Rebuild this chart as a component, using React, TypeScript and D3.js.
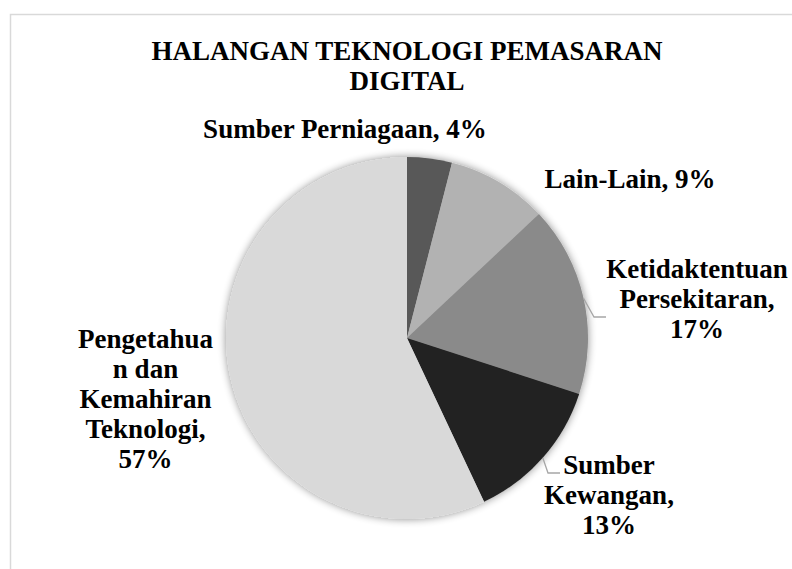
import React from "react";
import * as d3 from "d3";

const categories = [
  "Sumber Perniagaan",
  "Lain-Lain",
  "Ketidaktentuan Persekitaran",
  "Sumber Kewangan",
  "Pengetahuan dan Kemahiran Teknologi",
];
const values = [4, 9, 17, 13, 57];
const labelLines = [
  ["Sumber Perniagaan, 4%"],
  ["Lain-Lain, 9%"],
  ["Ketidaktentuan", "Persekitaran,", "17%"],
  ["Sumber", "Kewangan,", "13%"],
  ["Pengetahua", "n dan", "Kemahiran", "Teknologi,", "57%"],
];
const colors = ["#595959", "#b2b2b2", "#8a8a8a", "#222222", "#d9d9d9"];
const titleLines = ["HALANGAN TEKNOLOGI PEMASARAN", "DIGITAL"];

// layout (label anchor: center x, first baseline y)
const labelPos = [
  { x: 345, y: 137.5 },
  { x: 630, y: 187.5 },
  { x: 697, y: 278 },
  { x: 609, y: 473.5 },
  { x: 145.5, y: 348 },
];
const leaders: ({ elbow: [number, number]; end: [number, number] } | null)[] = [
  null,
  null,
  { elbow: [594, 317], end: [606, 317] },
  { elbow: [548, 473], end: [560, 473] },
  null,
];

const W = 792;
const H = 569;
const cx = 407;
const cy = 338;
const R = 181;
const FONT = "'Liberation Serif', 'Times New Roman', serif";

export default function App() {
  const pie = d3
    .pie<number>()
    .sort(null)
    .value((d) => d)
    .startAngle(0)
    .endAngle(2 * Math.PI);
  const arcs = pie(values);
  const arc = d3.arc<d3.PieArcDatum<number>>().innerRadius(0).outerRadius(R);

  return (
    <svg
      width={W}
      height={H}
      style={{ position: "absolute", left: 0, top: 0, background: "#fff" }}
      fontFamily={FONT}
    >
      <defs>
        <filter id="shadow" x="-20%" y="-20%" width="140%" height="140%">
          <feGaussianBlur in="SourceAlpha" stdDeviation="4" />
          <feComponentTransfer>
            <feFuncA type="linear" slope="0.45" />
          </feComponentTransfer>
          <feMerge>
            <feMergeNode />
            <feMergeNode in="SourceGraphic" />
          </feMerge>
        </filter>
      </defs>
      <rect x={0} y={0} width={W} height={H} fill="#fff" />
      <rect
        x={10.5}
        y={14.5}
        width={W + 20}
        height={H + 20}
        fill="#fff"
        stroke="#d9d9d9"
        strokeWidth={1.5}
      />
      {titleLines.map((t, i) => (
        <text
          key={t}
          x={407}
          y={60 + i * 30}
          textAnchor="middle"
          fontSize={27}
          fontWeight="bold"
          fill="#000"
        >
          {t}
        </text>
      ))}
      <g transform={`translate(${cx},${cy})`} filter="url(#shadow)">
        {arcs.map((a, i) => (
          <path key={categories[i]} d={arc(a) || ""} fill={colors[i]} />
        ))}
      </g>
      {arcs.map((a, i) => {
        const L = leaders[i];
        if (!L) return null;
        const mid = (a.startAngle + a.endAngle) / 2;
        const sx = cx + R * Math.sin(mid);
        const sy = cy - R * Math.cos(mid);
        return (
          <polyline
            key={"l" + i}
            points={`${sx},${sy} ${L.elbow[0]},${L.elbow[1]} ${L.end[0]},${L.end[1]}`}
            fill="none"
            stroke="#a6a6a6"
            strokeWidth={1.3}
          />
        );
      })}
      {labelLines.map((lines, i) => (
        <text
          key={"t" + i}
          textAnchor="middle"
          fontSize={27}
          fontWeight="bold"
          fill="#000"
        >
          {lines.map((ln, j) => (
            <tspan key={j} x={labelPos[i].x} y={labelPos[i].y + j * 30}>
              {ln}
            </tspan>
          ))}
        </text>
      ))}
    </svg>
  );
}
